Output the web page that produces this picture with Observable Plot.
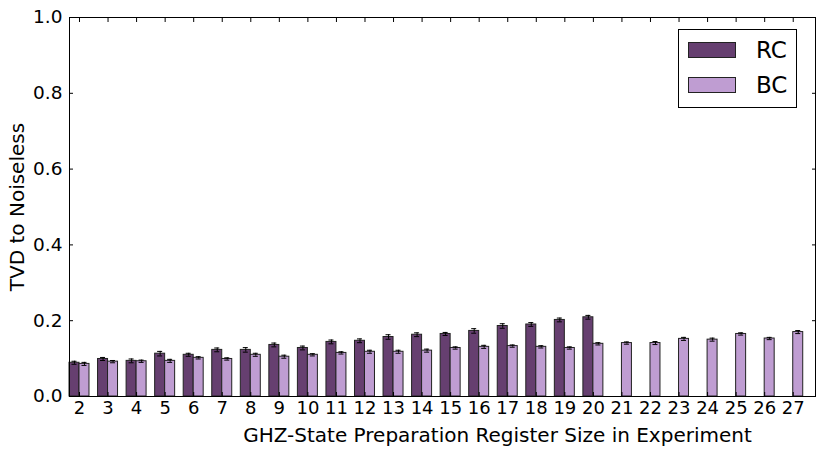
<!DOCTYPE html>
<html><head><meta charset="utf-8">
<script src="https://cdn.jsdelivr.net/npm/d3@7"></script>
<script src="https://cdn.jsdelivr.net/npm/@observablehq/plot@0.6"></script>
<style>
body{margin:0;background:#fff;}
#wrap{position:relative;width:829px;height:452px;font-family:"DejaVu Sans",sans-serif;}
.legend{position:absolute;left:678px;top:29px;width:117px;height:77px;border:1px solid #000;background:#fff;}
.sw{position:absolute;left:9px;width:46px;height:14px;border:1px solid #222;}
.lt{position:absolute;left:77px;font-size:23px;line-height:23px;color:#000;}
svg text{font-family:"DejaVu Sans",sans-serif;}
</style>
</head><body>
<div id="wrap"></div>
<script>
const categories = [2,3,4,5,6,7,8,9,10,11,12,13,14,15,16,17,18,19,20,21,22,23,24,25,26,27];
const rcValues = [0.089,0.099,0.094,0.113,0.110,0.123,0.123,0.136,0.128,0.144,0.147,0.157,0.163,0.165,0.173,0.186,0.190,0.202,0.209];
const rcErr    = [0.004,0.004,0.005,0.006,0.004,0.005,0.006,0.005,0.005,0.005,0.005,0.006,0.005,0.004,0.006,0.006,0.005,0.005,0.005];
const bcValues = [0.086,0.092,0.093,0.094,0.102,0.099,0.110,0.105,0.110,0.115,0.118,0.118,0.121,0.128,0.131,0.133,0.131,0.128,0.139,0.141,0.141,0.152,0.150,0.165,0.153,0.170];
const bcErr    = [0.004,0.003,0.003,0.004,0.003,0.003,0.004,0.004,0.003,0.003,0.004,0.004,0.004,0.003,0.004,0.003,0.003,0.003,0.003,0.003,0.004,0.004,0.004,0.003,0.003,0.004];
const yTicks = [0,0.2,0.4,0.6,0.8,1.0];
const seriesNames = ["RC","BC"];
const rcColor = "#663f70";
const bcColor = "#bf9dd2";
const W = 0.35;

const rcData = rcValues.map((v,i)=>({i, v, e: rcErr[i]}));
const bcData = bcValues.map((v,i)=>({i, v, e: bcErr[i]}));
const xTicks = categories.map((c,i)=>i+W);

const chart = Plot.plot({
  width: 829, height: 452,
  marginLeft: 69, marginRight: 14, marginTop: 17, marginBottom: 56,
  style: {fontFamily: "DejaVu Sans", fontSize: "18px", color: "#000", background: "#fff"},
  x: {domain: [0, 26.13]},
  y: {domain: [0, 1]},
  marks: [
    Plot.rect(rcData, {x1: d=>d.i, x2: d=>d.i+W, y1: 0, y2: "v", fill: rcColor, stroke: "#222", strokeWidth: 1}),
    Plot.rect(bcData, {x1: d=>d.i+W, x2: d=>d.i+2*W, y1: 0, y2: "v", fill: bcColor, stroke: "#222", strokeWidth: 1}),
    Plot.ruleX(rcData, {x: d=>d.i+W/2, y1: d=>d.v-d.e, y2: d=>d.v+d.e, stroke: "#000", strokeWidth: 1}),
    Plot.ruleY(rcData, {y: d=>d.v+d.e, x1: d=>d.i+W/2, x2: d=>d.i+W/2, insetLeft: -2.5, insetRight: -2.5, stroke: "#000"}),
    Plot.ruleY(rcData, {y: d=>d.v-d.e, x1: d=>d.i+W/2, x2: d=>d.i+W/2, insetLeft: -2.5, insetRight: -2.5, stroke: "#000"}),
    Plot.ruleX(bcData, {x: d=>d.i+1.5*W, y1: d=>d.v-d.e, y2: d=>d.v+d.e, stroke: "#000", strokeWidth: 1}),
    Plot.ruleY(bcData, {y: d=>d.v+d.e, x1: d=>d.i+1.5*W, x2: d=>d.i+1.5*W, insetLeft: -2.5, insetRight: -2.5, stroke: "#000"}),
    Plot.ruleY(bcData, {y: d=>d.v-d.e, x1: d=>d.i+1.5*W, x2: d=>d.i+1.5*W, insetLeft: -2.5, insetRight: -2.5, stroke: "#000"}),
    Plot.frame({stroke: "#000", strokeWidth: 1}),
    Plot.axisX(xTicks, {anchor: "bottom", tickSize: -4, tickPadding: 9, fontSize: 18, tickFormat: d => String(categories[Math.round(d - W)]), label: null, stroke: "#000"}),
    Plot.axisX(xTicks, {anchor: "top", tickSize: -4, tickFormat: () => "", label: null, stroke: "#000"}),
    Plot.axisY(yTicks, {anchor: "left", tickSize: -4, tickPadding: 11, fontSize: 18.5, tickFormat: d3.format(".1f"), label: null, stroke: "#000"}),
    Plot.axisY(yTicks, {anchor: "right", tickSize: -4, tickFormat: () => "", label: null, stroke: "#000"}),
    Plot.text(["TVD to Noiseless"], {frameAnchor: "left", textAnchor: "middle", lineAnchor: "middle", dx: -52, rotate: -90, fontSize: 20, fill: "#000"}),
    Plot.text(["GHZ-State Preparation Register Size in Experiment"], {frameAnchor: "bottom", textAnchor: "middle", lineAnchor: "middle", dx: 55, dy: 39, fontSize: 20, fill: "#000"})
  ]
});
const wrap = document.getElementById("wrap");
wrap.appendChild(chart);
const lg = document.createElement("div");
lg.className = "legend";
const colors = [rcColor, bcColor];
const tops = [12, 47];
seriesNames.forEach((n, k) => {
  const s = document.createElement("div");
  s.className = "sw"; s.style.top = tops[k] + "px"; s.style.background = colors[k];
  const t = document.createElement("div");
  t.className = "lt"; t.style.top = (tops[k] - 3) + "px"; t.textContent = n;
  lg.appendChild(s); lg.appendChild(t);
});
wrap.appendChild(lg);
</script>
</body></html>
